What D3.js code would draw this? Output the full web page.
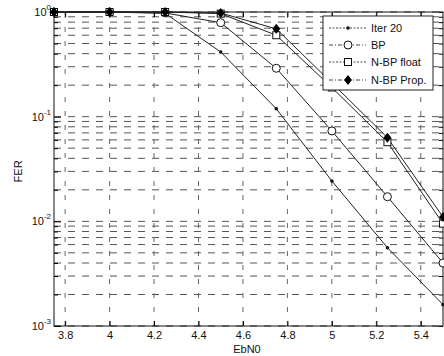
<!DOCTYPE html>
<html>
<head>
<meta charset="utf-8">
<script src="https://cdn.jsdelivr.net/npm/d3@7"></script>
<style>
  body { margin: 0; background: #fff; }
  svg { display: block; font-family: "Liberation Sans", Arial, sans-serif; }
</style>
</head>
<body>
<svg id="chart" width="444" height="356"></svg>
<script>
const svg = d3.select("#chart");
const width = 444;
const height = 356;

const margin = { T: 12, B: 30, L: 54, R: 1 };

// ---- DATA ---- //
const ebno = [3.75, 4.0, 4.25, 4.5, 4.75, 5.0, 5.25, 5.5];
const iter20 = [1, 1, 0.97, 0.415, 0.119, 0.0243, 0.0056, 0.0016];
const bp = [1, 1, 0.98, 0.79, 0.29, 0.073, 0.0172, 0.0040];
const nbpFloat = [1, 1, 1, 0.965, 0.60, 0.19, 0.057, 0.0095];
const nbpProp = [1, 1, 1, 0.978, 0.69, 0.21, 0.063, 0.011];

const xTicks = [3.8, 4.0, 4.2, 4.4, 4.6, 4.8, 5.0, 5.2, 5.4];
const yMajor = [1e-3, 1e-2, 1e-1, 1];
const yExp = ["-3", "-2", "-1", "0"];

const series = [
    { name: "Iter 20", values: iter20, marker: "dot" },
    { name: "BP", values: bp, marker: "circle" },
    { name: "N-BP float", values: nbpFloat, marker: "square" },
    { name: "N-BP Prop.", values: nbpProp, marker: "diamond" },
];

// ---- SCALES ---- //
const xScale = d3.scaleLinear()
    .domain([3.75, 5.5])
    .range([margin.L, width - margin.R]);
const yScale = d3.scaleLog()
    .domain([1e-3, 1])
    .range([height - margin.B, margin.T]);

const x0 = margin.L, x1 = width - margin.R;
const y0 = height - margin.B, y1 = margin.T;

// minor values for log grid
const yMinor = [];
for (let e = -3; e < 0; e++) {
    for (let k = 2; k <= 9; k++) yMinor.push(k * Math.pow(10, e));
}

// ---- GRID ---- //
const grid = svg.append("g").attr("class", "grid");
grid.selectAll(".hgrid")
    .data(yMajor.concat(yMinor))
    .enter()
    .append("line")
        .attr("x1", x0).attr("x2", x1)
        .attr("y1", d => yScale(d)).attr("y2", d => yScale(d))
        .attr("stroke", "#555")
        .attr("stroke-width", 1)
        .attr("stroke-dasharray", "7,7");
grid.selectAll(".vgrid")
    .data(xTicks)
    .enter()
    .append("line")
        .attr("x1", d => xScale(d)).attr("x2", d => xScale(d))
        .attr("y1", y0).attr("y2", y1)
        .attr("stroke", "#666")
        .attr("stroke-width", 1)
        .attr("stroke-dasharray", "5,9");

// ---- AXES ---- //
const xAxisB = d3.axisBottom(xScale).tickValues(xTicks).tickSizeInner(-5).tickSizeOuter(0)
    .tickFormat(d => String(+d.toFixed(1))).tickPadding(5);
const gx = svg.append("g")
    .attr("transform", `translate(0, ${y0})`)
    .call(xAxisB);
gx.select(".domain").remove();
gx.selectAll("text").attr("font-size", 11).attr("font-family", "Liberation Sans, Arial, sans-serif").attr("fill", "#111");

const gxTop = svg.append("g")
    .attr("transform", `translate(0, ${y1})`)
    .call(d3.axisTop(xScale).tickValues(xTicks).tickSizeInner(-5).tickSizeOuter(0).tickFormat(""));
gxTop.select(".domain").remove();

const gyL = svg.append("g")
    .attr("transform", `translate(${x0}, 0)`)
    .call(d3.axisLeft(yScale).tickValues(yMinor).tickSizeInner(-4).tickSizeOuter(0).tickFormat(""));
gyL.select(".domain").remove();
const gyL2 = svg.append("g")
    .attr("transform", `translate(${x0}, 0)`)
    .call(d3.axisLeft(yScale).tickValues(yMajor).tickSizeInner(-7).tickSizeOuter(0).tickFormat(""));
gyL2.select(".domain").remove();
const gyR = svg.append("g")
    .attr("transform", `translate(${x1}, 0)`)
    .call(d3.axisRight(yScale).tickValues(yMinor.concat(yMajor)).tickSizeInner(-4).tickSizeOuter(0).tickFormat(""));
gyR.select(".domain").remove();

// y tick labels 10^e
const ylab = svg.append("g").attr("class", "ylabels");
yMajor.forEach((v, i) => {
    const t = ylab.append("text")
        .attr("x", 51)
        .attr("y", yScale(v) + 4)
        .attr("text-anchor", "end")
        .attr("font-size", 11)
        .attr("fill", "#111");
    t.append("tspan").text("10");
    t.append("tspan").attr("dy", -6).attr("font-size", 8).text(yExp[i]);
});

// box
svg.append("rect")
    .attr("x", x0).attr("y", y1)
    .attr("width", x1 - x0).attr("height", y0 - y1)
    .attr("fill", "none")
    .attr("stroke", "#111")
    .attr("stroke-width", 1);

// axis titles
svg.append("text")
    .attr("x", xScale(4.6) + 4)
    .attr("y", 353)
    .attr("text-anchor", "middle")
    .attr("font-size", 11)
    .attr("fill", "#111")
    .text("EbN0");
svg.append("text")
    .attr("transform", `translate(22, ${yScale(0.03)}) rotate(-90)`)
    .attr("text-anchor", "middle")
    .attr("font-size", 11)
    .attr("fill", "#111")
    .text("FER");

// ---- MARKERS ---- //
function drawMarker(g, type, x, y) {
    if (type === "dot") {
        g.append("circle").attr("cx", x).attr("cy", y).attr("r", 1.8).attr("fill", "#111");
    } else if (type === "circle") {
        g.append("circle").attr("cx", x).attr("cy", y).attr("r", 4)
            .attr("fill", "#fff").attr("stroke", "#111").attr("stroke-width", 1);
    } else if (type === "square") {
        g.append("rect").attr("x", x - 3.5).attr("y", y - 3.5).attr("width", 7).attr("height", 7)
            .attr("fill", "#fff").attr("stroke", "#111").attr("stroke-width", 1);
    } else if (type === "diamond") {
        g.append("path")
            .attr("d", `M${x},${y - 5}L${x + 4},${y}L${x},${y + 5}L${x - 4},${y}Z`)
            .attr("fill", "#000");
    }
}

// ---- LINES ---- //
const line = d3.line()
    .x(d => xScale(d[0]))
    .y(d => yScale(d[1]));

const plot = svg.append("g").attr("class", "plot");
series.forEach(s => {
    const pts = ebno.map((e, i) => [e, s.values[i]]);
    plot.append("path")
        .attr("d", line(pts))
        .attr("fill", "none")
        .attr("stroke", "#222")
        .attr("stroke-width", 1);
});
series.forEach(s => {
    const g = plot.append("g");
    ebno.forEach((e, i) => drawMarker(g, s.marker, xScale(e), yScale(s.values[i])));
});

// ---- LEGEND ---- //
const legend = svg.append("g").attr("class", "legend");
legend.append("rect")
    .attr("x", 323).attr("y", 16)
    .attr("width", 110).attr("height", 74)
    .attr("fill", "#fff")
    .attr("stroke", "#222")
    .attr("stroke-width", 1);
const legY = [28, 45, 62, 80];
series.forEach((s, i) => {
    const g = legend.append("g");
    g.append("line")
        .attr("x1", 329).attr("x2", 366)
        .attr("y1", legY[i]).attr("y2", legY[i])
        .attr("stroke", "#444")
        .attr("stroke-width", 1)
        .attr("stroke-dasharray", i === 1 || i === 3 ? "4,2,1,2" : "2,1.5");
    drawMarker(g, s.marker, 348, legY[i]);
    g.append("text")
        .attr("x", 371)
        .attr("y", legY[i] + 4)
        .attr("font-size", 11)
        .attr("fill", "#111")
        .text(s.name);
});
</script>
</body>
</html>
